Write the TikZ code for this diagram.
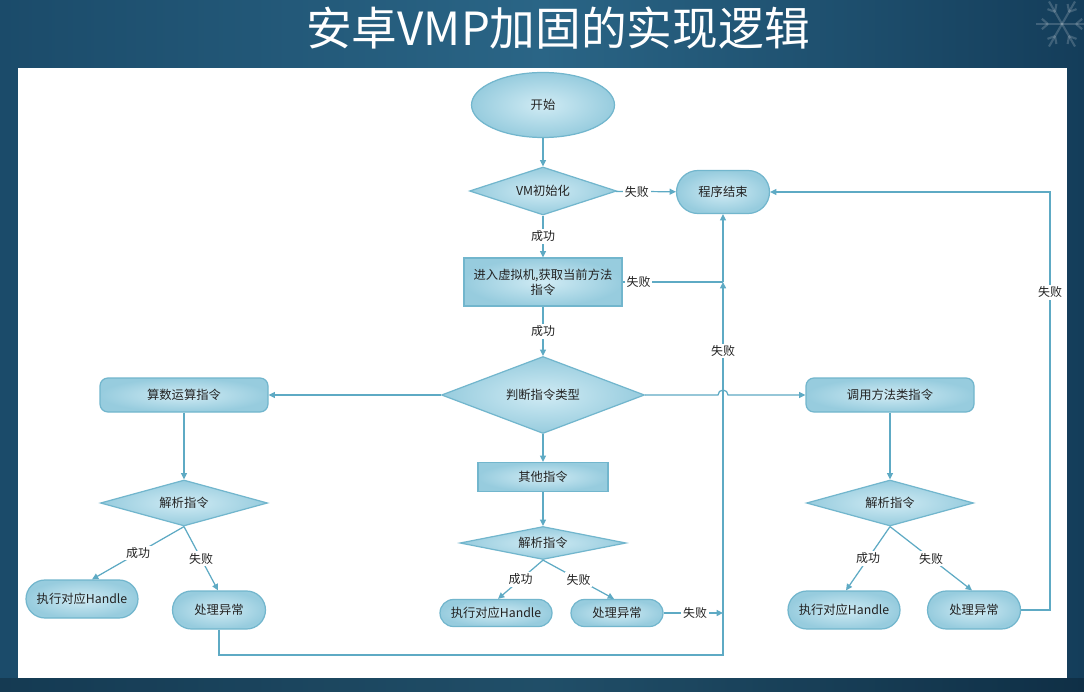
\documentclass[tikz,border=0pt]{standalone}
\usepackage{fontspec}
\setmainfont{Noto Sans CJK SC}
\usetikzlibrary{shapes.geometric,shapes.misc,arrows.meta,calc}

\definecolor{bgL}{HTML}{1B4B6A}
\definecolor{bgM}{HTML}{2A6586}
\definecolor{bgR}{HTML}{143D5A}
\definecolor{wire}{HTML}{5EAAC4}
\definecolor{nodeedge}{HTML}{72B6CD}
\definecolor{shadein}{HTML}{D0EBF4}
\definecolor{shadeout}{HTML}{97CCDE}
\definecolor{txt}{HTML}{222222}

\tikzset{
  sz/.style 2 args={minimum width=#1*0.02cm, minimum height=#2*0.02cm},
  basenode/.style={draw=nodeedge, line width=0.7pt, inner color=shadein, outer color=shadeout,
                   text=txt, font=\fontsize{7}{8.5}\selectfont, inner sep=0pt, align=center},
  oval/.style={basenode, ellipse},
  pill/.style={basenode, rounded rectangle},
  decision/.style={basenode, diamond},
  procbox/.style={basenode, rectangle},
  softbox/.style={basenode, rectangle, rounded corners=8*0.02cm},
  wireline/.style={draw=wire, line width=0.7pt},
  arr/.style={wireline, -{Triangle[length=3.6pt,width=3.4pt]}},
  lbl/.style={fill=white, text=txt, inner sep=1pt, font=\fontsize{6.8}{8}\selectfont},
}

\begin{document}
\begin{tikzpicture}[x=0.02cm, y=-0.02cm]
  % slide background
  \useasboundingbox (0,0) rectangle (1084,692);
  \shade[left color=bgL, right color=bgR, middle color=bgM] (0,0) rectangle (1084,692);
  \fill[black, opacity=0.22] (0,678) rectangle (1084,692);
  % faint snowflake ornament
  \begin{scope}[shift={(1062,24)}, white, opacity=0.18, line width=1.2pt]
    \foreach \a in {0,60,120} {
      \draw (\a:-26) -- (\a:26);
      \draw (\a:14) -- ++(\a+40:8) (\a:14) -- ++(\a-40:8);
      \draw (\a:-14) -- ++(\a+140:8) (\a:-14) -- ++(\a-140:8);
    }
  \end{scope}
  % title
  \node[text=white, font=\fontsize{26}{29}\selectfont] (title) at (558,28) {安卓VMP加固的实现逻辑};
  % white canvas
  \fill[white] (18,68) rectangle (1067,678);

  % nodes
  \node[oval, sz={143}{65}] (start) at (543,105) {开始};
  \node[decision, sz={147}{48}, aspect=3.06] (init) at (543,191) {VM初始化};
  \node[pill, sz={93}{43}] (stop) at (723,192) {程序结束};
  \node[procbox, sz={158}{48}] (enter) at (543,282) {进入虚拟机,获取当前方法\\指令};
  \node[decision, sz={203}{77}, aspect=2.64] (judge) at (543,395) {判断指令类型};
  \node[softbox, sz={168}{34}] (arith) at (184,395) {算数运算指令};
  \node[softbox, sz={168}{34}] (call) at (890,395) {调用方法类指令};
  \node[procbox, sz={130}{29}] (other) at (543,477) {其他指令};

  \node[decision, sz={167}{46}, aspect=3.63] (parseL) at (184,503) {解析指令};
  \node[decision, sz={166}{33}, aspect=5.03] (parseM) at (543,543) {解析指令};
  \node[decision, sz={167}{46}, aspect=3.63] (parseR) at (890,503) {解析指令};

  \node[pill, sz={112}{38}] (execL) at (82,599) {执行对应Handle};
  \node[pill, sz={93}{38}] (procL) at (219,610) {处理异常};
  \node[pill, sz={112}{27}] (execM) at (496,613) {执行对应Handle};
  \node[pill, sz={92}{27}] (procM) at (617,613) {处理异常};
  \node[pill, sz={112}{38}] (execR) at (844,610) {执行对应Handle};
  \node[pill, sz={93}{38}] (procR) at (974,610) {处理异常};

  % routing points
  \coordinate (join) at (723,282);
  \coordinate (sink) at (723,655);
  \coordinate (rc1) at (1050,610);
  \coordinate (rc2) at (1050,192);

  % main spine
  \draw[arr] (start) -- (init);
  \draw[arr] (init) -- node[lbl]{成功} (enter);
  \draw[arr] (init) -- node[lbl, pos=0.35]{失败} (stop);
  \draw[arr] (enter) -- node[lbl]{成功} (judge);
  \draw[wireline] (enter.east) -- node[lbl, pos=0.16]{失败} (join);

  % shared failure return line
  \draw[arr] (procL.south) |- (sink) -- node[lbl, pos=0.815]{失败} (join);
  \draw[arr] (join) -- (stop.south);

  % instruction dispatch
  \draw[arr] (judge.west) -- (arith.east);
  \draw[arr] (judge.east) -- (718,395) arc[start angle=180, end angle=360, radius=5] -- (call.west);
  \draw[arr] (judge) -- (other);

  % arithmetic branch
  \draw[arr] (arith) -- (parseL);
  \draw[arr] (parseL.south) -- node[lbl]{成功} ($(execL.north)+(10,0)$);
  \draw[arr] (parseL.south) -- node[lbl]{失败} ($(procL.north)+(-1,0)$);

  % other branch
  \draw[arr] (other) -- (parseM);
  \draw[arr] (parseM.south) -- node[lbl]{成功} ($(execM.north)+(2,0)$);
  \draw[arr] (parseM.south) -- node[lbl]{失败} ($(procM.north)+(-3,0)$);
  \draw[arr] (procM.east) -- node[lbl, pos=0.53]{失败} (procM.east -| sink);

  % method-call branch
  \draw[arr] (call) -- (parseR);
  \draw[arr] (parseR.south) -- node[lbl]{成功} ($(execR.north)+(2,0)$);
  \draw[arr] (parseR.south) -- node[lbl]{失败} ($(procR.north)+(-2,0)$);
  \draw[arr] (procR.east) -- (rc1) -- node[lbl, pos=0.76]{失败} (rc2) -- (stop.east);
\end{tikzpicture}
\end{document}
